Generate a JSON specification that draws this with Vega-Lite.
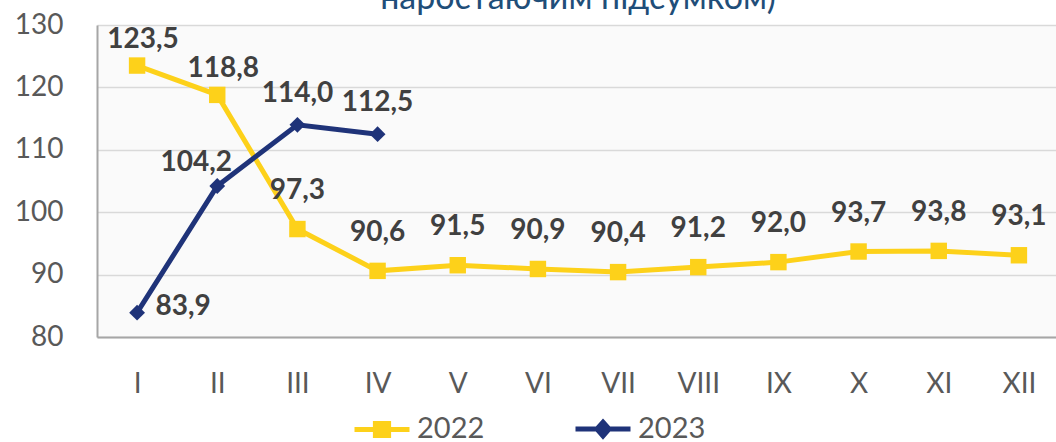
{
  "$schema": "https://vega.github.io/schema/vega-lite/v6.json",
  "autosize": {"type": "none"},
  "width": 962,
  "height": 312,
  "padding": {"left": 97, "top": 25, "right": 0, "bottom": 105},
  "background": "white",
  "title": {
    "text": "наростаючим підсумком)",
    "orient": "top",
    "anchor": "middle",
    "frame": "group",
    "baseline": "alphabetic",
    "offset": -32,
    "font": "Lato",
    "fontSize": 34,
    "fontWeight": "normal",
    "color": "#1F4E79"
  },
  "config": {
    "locale": {"number": {"decimal": ",", "thousands": " ", "grouping": [3], "currency": ["", ""]}},
    "view": {"stroke": null, "fill": "#FAFAFA"},
    "font": "Lato",
    "axis": {"gridColor": "#D9D9D9", "gridWidth": 1.5, "domainColor": "#A6A6A6", "domainWidth": 2, "ticks": false, "labelFont": "Lato", "labelFontSize": 28, "labelColor": "#595959", "title": null}
  },
  "data": {"values": [
    {"month": "I", "year": "2022", "value": 123.5},
    {"month": "II", "year": "2022", "value": 118.8},
    {"month": "III", "year": "2022", "value": 97.3},
    {"month": "IV", "year": "2022", "value": 90.6},
    {"month": "V", "year": "2022", "value": 91.5},
    {"month": "VI", "year": "2022", "value": 90.9},
    {"month": "VII", "year": "2022", "value": 90.4},
    {"month": "VIII", "year": "2022", "value": 91.2},
    {"month": "IX", "year": "2022", "value": 92.0},
    {"month": "X", "year": "2022", "value": 93.7},
    {"month": "XI", "year": "2022", "value": 93.8},
    {"month": "XII", "year": "2022", "value": 93.1},
    {"month": "I", "year": "2023", "value": 83.9},
    {"month": "II", "year": "2023", "value": 104.2},
    {"month": "III", "year": "2023", "value": 114.0},
    {"month": "IV", "year": "2023", "value": 112.5}
  ]},
  "encoding": {
    "x": {"field": "month", "type": "nominal", "sort": ["I","II","III","IV","V","VI","VII","VIII","IX","X","XI","XII"],
      "scale": {"type": "band", "paddingInner": 0, "paddingOuter": 0},
      "axis": {"labelAngle": 0, "tickBand": "extent", "labelPadding": 33, "labelBaseline": "top"}},
    "y": {"field": "value", "type": "quantitative", "scale": {"domain": [80, 130], "nice": false, "zero": false},
      "axis": {"values": [80, 90, 100, 110, 120, 130], "labelPadding": 34}}
  },
  "layer": [
    {
      "mark": {"type": "line", "strokeWidth": 5},
      "encoding": {
        "color": {"field": "year", "type": "nominal", "scale": {"domain": ["2022", "2023"], "range": ["#FDD11A", "#1F3379"]},
          "legend": {
            "title": null, "orient": "none", "direction": "horizontal", "legendX": 255, "legendY": 374,
            "symbolSize": 3025, "labelFontSize": 29, "labelColor": "#595959", "labelFont": "Lato", "labelOffset": 5, "columnPadding": 80,
            "encode": {"symbols": {"update": {
              "shape": {"signal": "datum.value === '2022' ? 'M-1,0H1M-0.24,-0.22H0.24V0.22H-0.24Z' : 'M-1,0H1M0,-0.25L0.22,0L0,0.25L-0.22,0Z'"},
              "fill": {"signal": "datum.value === '2022' ? '#FDD11A' : '#1F3379'"},
              "stroke": {"signal": "datum.value === '2022' ? '#FDD11A' : '#1F3379'"},
              "strokeWidth": {"value": 5},
              "opacity": {"value": 1}
            }}}
          }},
        "order": {"field": "year"}
      }
    },
    {
      "transform": [{"filter": "datum.year == '2022'"}],
      "mark": {"type": "point", "filled": true, "opacity": 1, "shape": "square", "size": 270, "color": "#FDD11A"}
    },
    {
      "transform": [{"filter": "datum.year == '2023'"}],
      "mark": {"type": "point", "filled": true, "opacity": 1, "shape": "diamond", "size": 250, "color": "#1F3379"}
    },
    {
      "transform": [{"filter": "datum.year == '2022' && (datum.month == 'I' || datum.month == 'II')"}],
      "mark": {"type": "text", "fontWeight": "bold", "fontSize": 28, "color": "#404040", "dy": -26, "dx": 6},
      "encoding": {"text": {"field": "value", "type": "quantitative", "format": ".1f"}}
    },
    {
      "transform": [{"filter": "datum.year == '2022' && datum.month != 'I' && datum.month != 'II'"}],
      "mark": {"type": "text", "fontWeight": "bold", "fontSize": 28, "color": "#404040", "dy": -38},
      "encoding": {"text": {"field": "value", "type": "quantitative", "format": ".1f"}}
    },
    {
      "transform": [{"filter": "datum.year == '2023' && datum.month == 'I'"}],
      "mark": {"type": "text", "fontWeight": "bold", "fontSize": 28, "color": "#404040", "dx": 46, "dy": -6},
      "encoding": {"text": {"field": "value", "type": "quantitative", "format": ".1f"}}
    },
    {
      "transform": [{"filter": "datum.year == '2023' && datum.month == 'II'"}],
      "mark": {"type": "text", "fontWeight": "bold", "fontSize": 28, "color": "#404040", "dx": -21, "dy": -23},
      "encoding": {"text": {"field": "value", "type": "quantitative", "format": ".1f"}}
    },
    {
      "transform": [{"filter": "datum.year == '2023' && (datum.month == 'III' || datum.month == 'IV')"}],
      "mark": {"type": "text", "fontWeight": "bold", "fontSize": 28, "color": "#404040", "dy": -31},
      "encoding": {"text": {"field": "value", "type": "quantitative", "format": ".1f"}}
    }
  ]
}
